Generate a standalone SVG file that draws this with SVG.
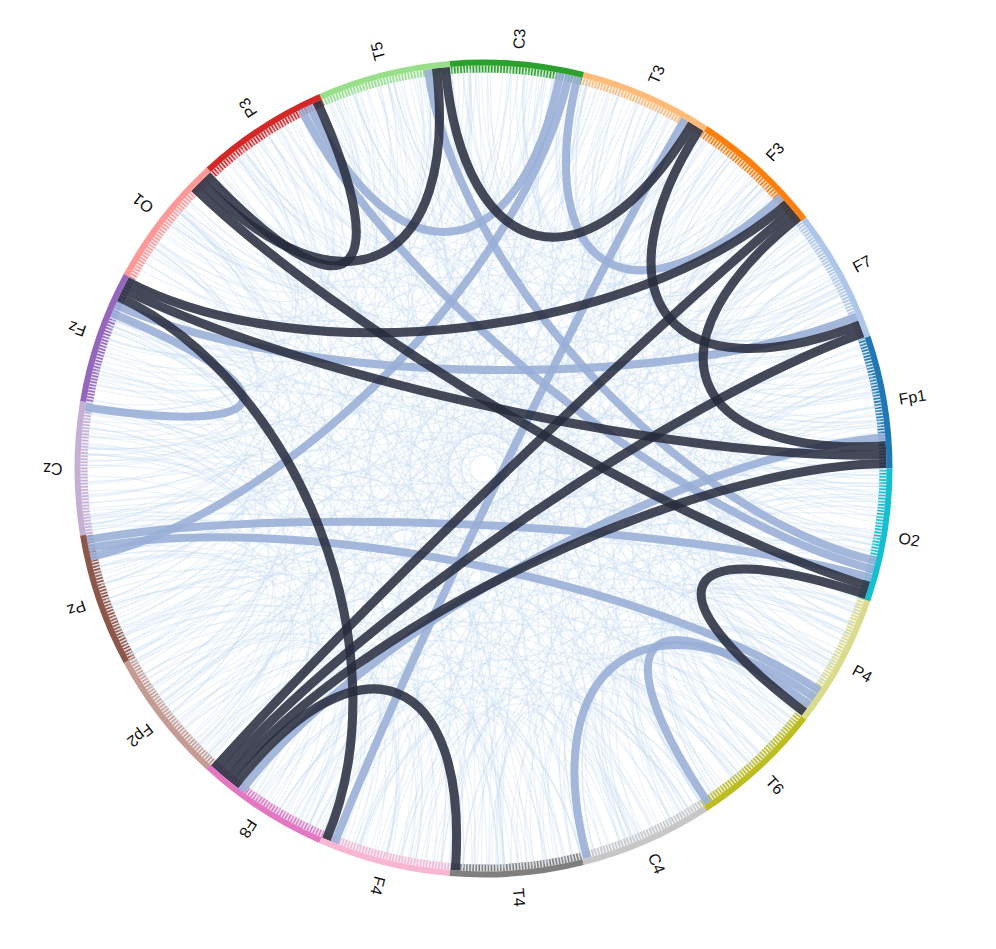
<svg xmlns="http://www.w3.org/2000/svg" width="996" height="949" viewBox="0 0 996 949">
<style>
.lbl{font-family:"Liberation Sans",Arial,Helvetica,sans-serif;font-size:16px;fill:#111}
.faint{fill:none;stroke:#c2d9f0;stroke-width:1.1;stroke-opacity:0.34}
.blue{fill:none;stroke:#98aed6;stroke-width:8;stroke-opacity:0.88}
.dark{fill:none;stroke:#262b3d;stroke-width:9;stroke-opacity:0.86}
.band{fill:none;stroke-width:6;stroke-dasharray:134.4 3000}
.tick{fill:none;stroke-width:7;stroke-dasharray:132.3 3000}
</style>
<defs>
<path id="h8" d="M396.11 -55.67C198.05 -27.83 198.05 27.83 396.11 55.67"/>
<path id="h18" d="M380.42 -123.61C190.21 -61.8 190.21 61.8 380.42 123.61"/>
<path id="h28" d="M353.18 -187.79C176.59 -93.89 176.59 93.89 353.18 187.79"/>
<path id="h40" d="M306.42 -257.12C153.21 -128.56 153.21 128.56 306.42 257.12"/>
<path id="h52" d="M246.26 -315.2C123.13 -157.6 123.13 157.6 246.26 315.2"/>
<path id="h63" d="M181.6 -356.4C90.8 -178.2 90.8 178.2 181.6 356.4"/>
<path id="h73" d="M116.95 -382.52C58.47 -191.26 58.47 191.26 116.95 382.52"/>
<path id="h82" d="M55.67 -396.11C27.83 -198.05 27.83 198.05 55.67 396.11"/>
<path id="h12" d="M391.26 -83.16C195.63 -41.58 195.63 41.58 391.26 83.16"/>
<path id="h23" d="M368.2 -156.29C184.1 -78.15 184.1 78.15 368.2 156.29"/>
<path id="h34" d="M331.62 -223.68C165.81 -111.84 165.81 111.84 331.62 223.68"/>
<path id="h46" d="M277.86 -287.74C138.93 -143.87 138.93 143.87 277.86 287.74"/>
<path id="h58" d="M211.97 -339.22C105.98 -169.61 105.98 169.61 211.97 339.22"/>
<path id="h69" d="M143.35 -373.43C71.67 -186.72 71.67 186.72 143.35 373.43"/>
<path id="h77" d="M89.98 -389.75C44.99 -194.87 44.99 194.87 89.98 389.75"/>
<path id="h85" d="M34.86 -398.48C17.43 -199.24 17.43 199.24 34.86 398.48"/>
<path id="h80" d="M69.46 -393.92C34.73 -196.96 34.73 196.96 69.46 393.92"/>
<path id="h87" d="M20.94 -399.45C10.47 -199.73 10.47 199.73 20.94 399.45"/>
<g id="fa">
<use href="#h8" transform="rotate(1.5)"/>
<use href="#h18" transform="rotate(4.7)"/>
<use href="#h28" transform="rotate(7.9)"/>
<use href="#h40" transform="rotate(2.9)"/>
<use href="#h52" transform="rotate(6.1)"/>
<use href="#h63" transform="rotate(0.8)"/>
<use href="#h73" transform="rotate(4.0)"/>
<use href="#h82" transform="rotate(7.2)"/>
</g>
<g id="fb">
<use href="#h12" transform="rotate(2.2)"/>
<use href="#h23" transform="rotate(5.6)"/>
<use href="#h34" transform="rotate(0.4)"/>
<use href="#h46" transform="rotate(3.8)"/>
<use href="#h58" transform="rotate(7.0)"/>
<use href="#h69" transform="rotate(1.9)"/>
<use href="#h77" transform="rotate(5.1)"/>
<use href="#h85" transform="rotate(8.3)"/>
</g>
</defs>
<rect width="996" height="949" fill="#ffffff"/>
<g transform="translate(483.5 468.5)">
<g id="ticks">
<circle class="tick" r="399.5" stroke="#1f77b4" transform="rotate(-18.947)"/>
<circle class="tick" r="399.5" stroke="#aec7e8" transform="rotate(-37.895)"/>
<circle class="tick" r="399.5" stroke="#ff7f0e" transform="rotate(-56.842)"/>
<circle class="tick" r="399.5" stroke="#ffbb78" transform="rotate(-75.789)"/>
<circle class="tick" r="399.5" stroke="#2ca02c" transform="rotate(-94.737)"/>
<circle class="tick" r="399.5" stroke="#98df8a" transform="rotate(-113.684)"/>
<circle class="tick" r="399.5" stroke="#d62728" transform="rotate(-132.632)"/>
<circle class="tick" r="399.5" stroke="#ff9896" transform="rotate(-151.579)"/>
<circle class="tick" r="399.5" stroke="#9467bd" transform="rotate(-170.526)"/>
<circle class="tick" r="399.5" stroke="#c5b0d5" transform="rotate(-189.474)"/>
<circle class="tick" r="399.5" stroke="#8c564b" transform="rotate(-208.421)"/>
<circle class="tick" r="399.5" stroke="#c49c94" transform="rotate(-227.368)"/>
<circle class="tick" r="399.5" stroke="#e377c2" transform="rotate(-246.316)"/>
<circle class="tick" r="399.5" stroke="#f7b6d2" transform="rotate(-265.263)"/>
<circle class="tick" r="399.5" stroke="#7f7f7f" transform="rotate(-284.211)"/>
<circle class="tick" r="399.5" stroke="#c7c7c7" transform="rotate(-303.158)"/>
<circle class="tick" r="399.5" stroke="#bcbd22" transform="rotate(-322.105)"/>
<circle class="tick" r="399.5" stroke="#dbdb8d" transform="rotate(-341.053)"/>
<circle class="tick" r="399.5" stroke="#17becf" transform="rotate(0)"/>
<circle r="399.5" fill="none" stroke="#ffffff" stroke-width="7.2" stroke-dasharray="1.5 1.6" stroke-opacity="0.8"/>
</g>
<g id="connectors">
<g id="faint-links" class="faint">
<use href="#fa" transform="rotate(0)"/><use href="#fa" transform="rotate(11)"/><use href="#fa" transform="rotate(19)"/><use href="#fa" transform="rotate(31)"/>
<use href="#fa" transform="rotate(38)"/><use href="#fa" transform="rotate(50)"/><use href="#fa" transform="rotate(57)"/><use href="#fa" transform="rotate(66)"/>
<use href="#fa" transform="rotate(78)"/><use href="#fa" transform="rotate(85)"/><use href="#fa" transform="rotate(96)"/><use href="#fa" transform="rotate(105)"/>
<use href="#fa" transform="rotate(113)"/><use href="#fa" transform="rotate(124)"/><use href="#fa" transform="rotate(131)"/><use href="#fa" transform="rotate(143)"/>
<use href="#fa" transform="rotate(150)"/><use href="#fa" transform="rotate(162)"/><use href="#fa" transform="rotate(171)"/><use href="#fa" transform="rotate(179)"/>
<use href="#fa" transform="rotate(191)"/><use href="#fa" transform="rotate(198)"/><use href="#fa" transform="rotate(209)"/><use href="#fa" transform="rotate(219)"/>
<use href="#fa" transform="rotate(226)"/><use href="#fa" transform="rotate(238)"/><use href="#fa" transform="rotate(245)"/><use href="#fa" transform="rotate(256)"/>
<use href="#fa" transform="rotate(264)"/><use href="#fa" transform="rotate(277)"/><use href="#fa" transform="rotate(283)"/><use href="#fa" transform="rotate(295)"/>
<use href="#fa" transform="rotate(302)"/><use href="#fa" transform="rotate(313)"/><use href="#fa" transform="rotate(322)"/><use href="#fa" transform="rotate(331)"/>
<use href="#fa" transform="rotate(340)"/><use href="#fa" transform="rotate(352)"/>
<use href="#fb" transform="rotate(5)"/><use href="#fb" transform="rotate(20)"/><use href="#fb" transform="rotate(34)"/><use href="#fb" transform="rotate(47)"/>
<use href="#fb" transform="rotate(63)"/><use href="#fb" transform="rotate(74)"/><use href="#fb" transform="rotate(90)"/><use href="#fb" transform="rotate(101)"/>
<use href="#fb" transform="rotate(118)"/><use href="#fb" transform="rotate(137)"/><use href="#fb" transform="rotate(155)"/><use href="#fb" transform="rotate(168)"/>
<use href="#fb" transform="rotate(186)"/><use href="#fb" transform="rotate(203)"/><use href="#fb" transform="rotate(214)"/><use href="#fb" transform="rotate(232)"/>
<use href="#fb" transform="rotate(250)"/><use href="#fb" transform="rotate(269)"/><use href="#fb" transform="rotate(288)"/><use href="#fb" transform="rotate(299)"/>
<use href="#fb" transform="rotate(318)"/><use href="#fb" transform="rotate(335)"/><use href="#fb" transform="rotate(346)"/><use href="#fb" transform="rotate(357)"/>
<use href="#h87" transform="rotate(7)"/><use href="#h87" transform="rotate(33)"/><use href="#h87" transform="rotate(61)"/><use href="#h87" transform="rotate(88)"/>
<use href="#h87" transform="rotate(119)"/><use href="#h87" transform="rotate(146)"/><use href="#h87" transform="rotate(174)"/><use href="#h87" transform="rotate(203)"/>
<use href="#h87" transform="rotate(231)"/><use href="#h87" transform="rotate(262)"/><use href="#h87" transform="rotate(289)"/><use href="#h87" transform="rotate(317)"/><use href="#h87" transform="rotate(343)"/>
<use href="#h80" transform="rotate(15)"/><use href="#h80" transform="rotate(46)"/><use href="#h80" transform="rotate(79)"/><use href="#h80" transform="rotate(108)"/>
<use href="#h80" transform="rotate(140)"/><use href="#h80" transform="rotate(167)"/><use href="#h80" transform="rotate(196)"/><use href="#h80" transform="rotate(224)"/>
<use href="#h80" transform="rotate(253)"/><use href="#h80" transform="rotate(281)"/><use href="#h80" transform="rotate(308)"/><use href="#h80" transform="rotate(337)"/>
</g>
<g id="strong-links" transform="scale(1.0075)">
<path class="blue" d="M-395.34 -60.85C-197.67 -30.42 -184.51 -77.18 -369.02 -154.36"/>
<path class="blue" d="M102.85 386.55C51.43 193.28 164.43 113.86 328.86 227.72"/>
<path class="blue" d="M223.1 332.01C111.55 166 161.91 117.42 323.81 234.83"/>
<path class="blue" d="M-173.15 -360.58C-86.57 -180.29 38.16 -196.33 76.32 -392.65"/>
<path class="blue" d="M93.38 -388.95C46.69 -194.47 147.81 -134.73 295.62 -269.47"/>
<path class="blue" d="M-393.68 70.83C-196.84 35.42 192.49 54.29 384.98 108.58"/>
<path class="blue" d="M-365.56 -162.38C-182.78 -81.19 185.24 -75.41 370.48 -150.82"/>
<path class="blue" d="M-180.97 -356.72C-90.49 -178.36 193.63 50.08 387.26 100.15"/>
<path class="blue" d="M-55.32 -396.16C-27.66 -198.08 194.68 45.84 389.35 91.68"/>
<path class="blue" d="M84.87 -390.89C42.44 -195.45 -195.11 43.97 -390.21 87.94"/>
<path class="blue" d="M-147.9 371.66C-73.95 185.83 99.85 -173.29 199.7 -346.59"/>
<path class="blue" d="M-392.04 79.41C-196.02 39.7 166.87 110.24 333.75 220.48"/>
<path class="blue" d="M-240.17 319.87C-120.08 159.94 199.4 -15.52 398.8 -31.04"/>
<path class="dark" d="M-37.99 -398.19C-19 -199.1 103.61 -171.07 207.21 -342.15"/>
<path class="dark" d="M-46.67 -397.27C-23.33 -198.63 -140.43 -142.42 -280.86 -284.84"/>
<path class="dark" d="M-165.24 -364.27C-82.62 -182.14 -137.29 -145.44 -274.58 -290.87"/>
<path class="dark" d="M-287.01 -278.62C-143.51 -139.31 191.26 58.47 382.52 116.95"/>
<path class="dark" d="M-354.16 -185.94C-177.08 -92.97 150.71 -131.48 301.42 -262.95"/>
<path class="dark" d="M-358.13 -178.17C-179.06 -89.08 199.88 -6.81 399.77 -13.61"/>
<path class="dark" d="M-361.93 -170.31C-180.97 -85.16 -77.99 184.17 -155.97 368.34"/>
<path class="dark" d="M-27.9 399.02C-13.95 199.51 -123.54 157.28 -247.09 314.56"/>
<path class="dark" d="M-253.91 309.11C-126.95 154.55 199.99 -2.44 399.97 -4.89"/>
<path class="dark" d="M-260.58 303.49C-130.29 151.74 188.35 -67.25 376.7 -134.5"/>
<path class="dark" d="M-267.13 297.72C-133.57 148.86 153.54 -128.16 307.09 -256.31"/>
<path class="dark" d="M318.62 241.84C159.31 120.92 189.94 62.63 379.88 125.27"/>
<path class="dark" d="M214.62 -337.54C107.31 -168.77 186.86 -71.36 373.73 -142.71"/>
<path class="dark" d="M312.62 -249.56C156.31 -124.78 199.69 -11.16 399.38 -22.33"/>
</g>
</g>
<g id="node-Fp1"><circle class="band" r="406" stroke="#1f77b4" transform="rotate(-18.947)"/><text class="lbl" transform="rotate(-9.47) translate(421 0)" dy="0.35em">Fp1</text></g>
<g id="node-F7"><circle class="band" r="406" stroke="#aec7e8" transform="rotate(-37.895)"/><text class="lbl" transform="rotate(-28.42) translate(421 0)" dy="0.35em">F7</text></g>
<g id="node-F3"><circle class="band" r="406" stroke="#ff7f0e" transform="rotate(-56.842)"/><text class="lbl" transform="rotate(-47.37) translate(421 0)" dy="0.35em">F3</text></g>
<g id="node-T3"><circle class="band" r="406" stroke="#ffbb78" transform="rotate(-75.789)"/><text class="lbl" transform="rotate(-66.32) translate(421 0)" dy="0.35em">T3</text></g>
<g id="node-C3"><circle class="band" r="406" stroke="#2ca02c" transform="rotate(-94.737)"/><text class="lbl" transform="rotate(-85.26) translate(421 0)" dy="0.35em">C3</text></g>
<g id="node-T5"><circle class="band" r="406" stroke="#98df8a" transform="rotate(-113.684)"/><text class="lbl" transform="rotate(-104.21) translate(421 0)" dy="0.35em">T5</text></g>
<g id="node-P3"><circle class="band" r="406" stroke="#d62728" transform="rotate(-132.632)"/><text class="lbl" transform="rotate(-123.16) translate(421 0)" dy="0.35em">P3</text></g>
<g id="node-O1"><circle class="band" r="406" stroke="#ff9896" transform="rotate(-151.579)"/><text class="lbl" transform="rotate(-142.11) translate(421 0)" dy="0.35em">O1</text></g>
<g id="node-Fz"><circle class="band" r="406" stroke="#9467bd" transform="rotate(-170.526)"/><text class="lbl" transform="rotate(-161.05) translate(421 0)" dy="0.35em">Fz</text></g>
<g id="node-Cz"><circle class="band" r="406" stroke="#c5b0d5" transform="rotate(-189.474)"/><text class="lbl" transform="rotate(-180) translate(421 0)" dy="0.35em">Cz</text></g>
<g id="node-Pz"><circle class="band" r="406" stroke="#8c564b" transform="rotate(-208.421)"/><text class="lbl" transform="rotate(-198.95) translate(421 0)" dy="0.35em">Pz</text></g>
<g id="node-Fp2"><circle class="band" r="406" stroke="#c49c94" transform="rotate(-227.368)"/><text class="lbl" transform="rotate(-217.89) translate(421 0)" dy="0.35em">Fp2</text></g>
<g id="node-F8"><circle class="band" r="406" stroke="#e377c2" transform="rotate(-246.316)"/><text class="lbl" transform="rotate(-236.84) translate(421 0)" dy="0.35em">F8</text></g>
<g id="node-F4"><circle class="band" r="406" stroke="#f7b6d2" transform="rotate(-265.263)"/><text class="lbl" transform="rotate(-255.79) translate(421 0)" dy="0.35em">F4</text></g>
<g id="node-T4"><circle class="band" r="406" stroke="#7f7f7f" transform="rotate(-284.211)"/><text class="lbl" transform="rotate(-274.74) translate(421 0)" dy="0.35em">T4</text></g>
<g id="node-C4"><circle class="band" r="406" stroke="#c7c7c7" transform="rotate(-303.158)"/><text class="lbl" transform="rotate(-293.68) translate(421 0)" dy="0.35em">C4</text></g>
<g id="node-T6"><circle class="band" r="406" stroke="#bcbd22" transform="rotate(-322.105)"/><text class="lbl" transform="rotate(-312.63) translate(421 0)" dy="0.35em">T6</text></g>
<g id="node-P4"><circle class="band" r="406" stroke="#dbdb8d" transform="rotate(-341.053)"/><text class="lbl" transform="rotate(-331.58) translate(421 0)" dy="0.35em">P4</text></g>
<g id="node-O2"><circle class="band" r="406" stroke="#17becf" transform="rotate(0)"/><text class="lbl" transform="rotate(-350.53) translate(421 0)" dy="0.35em">O2</text></g>
</g>
</svg>
